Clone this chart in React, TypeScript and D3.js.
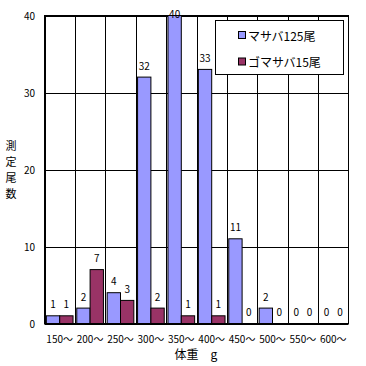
import React from "react";
import * as d3 from "d3";

const categories = ["150～", "200～", "250～", "300～", "350～", "400～", "450～", "500～", "550～", "600～"];
const seriesNames = ["マサバ125尾", "ゴマサバ15尾"];
const masaba = [1, 2, 4, 32, 40, 33, 11, 2, 0, 0];
const gomasaba = [1, 7, 3, 2, 1, 1, 0, 0, 0, 0];
const yTicks = [0, 10, 20, 30, 40];
const colors = ["#9999FF", "#993366"];

export default function App() {
  const W = 366, H = 366;
  const left = 44.5, right = 348.5, top = 15.5, bottom = 323.5;
  const x = d3.scaleBand<string>().domain(categories).range([left, right]).padding(0);
  const inner = d3.scaleBand<string>().domain(["0", "1"]).range([0, x.bandwidth()]).paddingInner(0).paddingOuter(0.14);
  const y = d3.scaleLinear().domain([0, 40]).range([bottom, top]);
  const series = [masaba, gomasaba];
  const font = "'Noto Sans CJK JP', 'DejaVu Sans', sans-serif";
  const ylabel = ["測", "定", "尾", "数"];
  return (
    <svg width={W} height={H} style={{ position: "absolute", left: 0, top: 0 }} fontFamily={font}>
      <rect x={0} y={0} width={W} height={H} fill="#fff" />
      {yTicks.map((t) => (
        <line key={"h" + t} x1={left} x2={right} y1={Math.round(y(t)) + 0.5} y2={Math.round(y(t)) + 0.5} stroke="#000" strokeWidth={1} />
      ))}
      {categories.map((c) => (
        <line key={"v" + c} x1={Math.round(x(c)!) + 0.5} x2={Math.round(x(c)!) + 0.5} y1={top} y2={bottom} stroke="#000" strokeWidth={1} />
      ))}
      <rect x={left} y={top} width={right - left} height={bottom - top} fill="none" stroke="#000" strokeWidth={1} />
      {series.map((vals, si) =>
        vals.map((v, i) => {
          const bx = x(categories[i])! + inner(String(si))!;
          const bw = inner.bandwidth();
          const by = y(v);
          return (
            <g key={si + "-" + i}>
              {v > 0 && (
                <rect x={bx} y={by} width={bw} height={y(0) - by} fill={colors[si]} stroke="#000" strokeWidth={1} />
              )}
              <text x={bx + bw / 2} y={Math.max(by - 12, 13)} fontSize={10} textAnchor="middle" dominantBaseline="central" fill="#000">
                {v}
              </text>
            </g>
          );
        })
      )}
      {yTicks.map((t) => (
        <text key={"yt" + t} x={35} y={y(t)} fontSize={10} textAnchor="end" dominantBaseline="central" fill="#000">
          {t}
        </text>
      ))}
      {categories.map((c) => (
        <text key={"xt" + c} x={x(c)! + x.bandwidth() / 2} y={338} fontSize={10} textAnchor="middle" dominantBaseline="central" fill="#000">
          {c}
        </text>
      ))}
      <text x={196} y={353} fontSize={12} textAnchor="middle" dominantBaseline="central" fill="#000">
        体重　g
      </text>
      {ylabel.map((ch, i) => (
        <text key={"yl" + i} x={11} y={145 + i * 16} fontSize={11} textAnchor="middle" dominantBaseline="central" fill="#000">
          {ch}
        </text>
      ))}
      <rect x={215.5} y={20.5} width={128} height={54} fill="#fff" stroke="#000" strokeWidth={1} />
      {seriesNames.map((n, i) => (
        <g key={"lg" + i}>
          <rect x={238.5} y={31.5 + i * 26.5} width={7} height={7} fill={colors[i]} stroke="#000" strokeWidth={1} />
          <text x={248} y={35 + i * 26.5} fontSize={12} dominantBaseline="central" fill="#000">
            {n}
          </text>
        </g>
      ))}
    </svg>
  );
}
